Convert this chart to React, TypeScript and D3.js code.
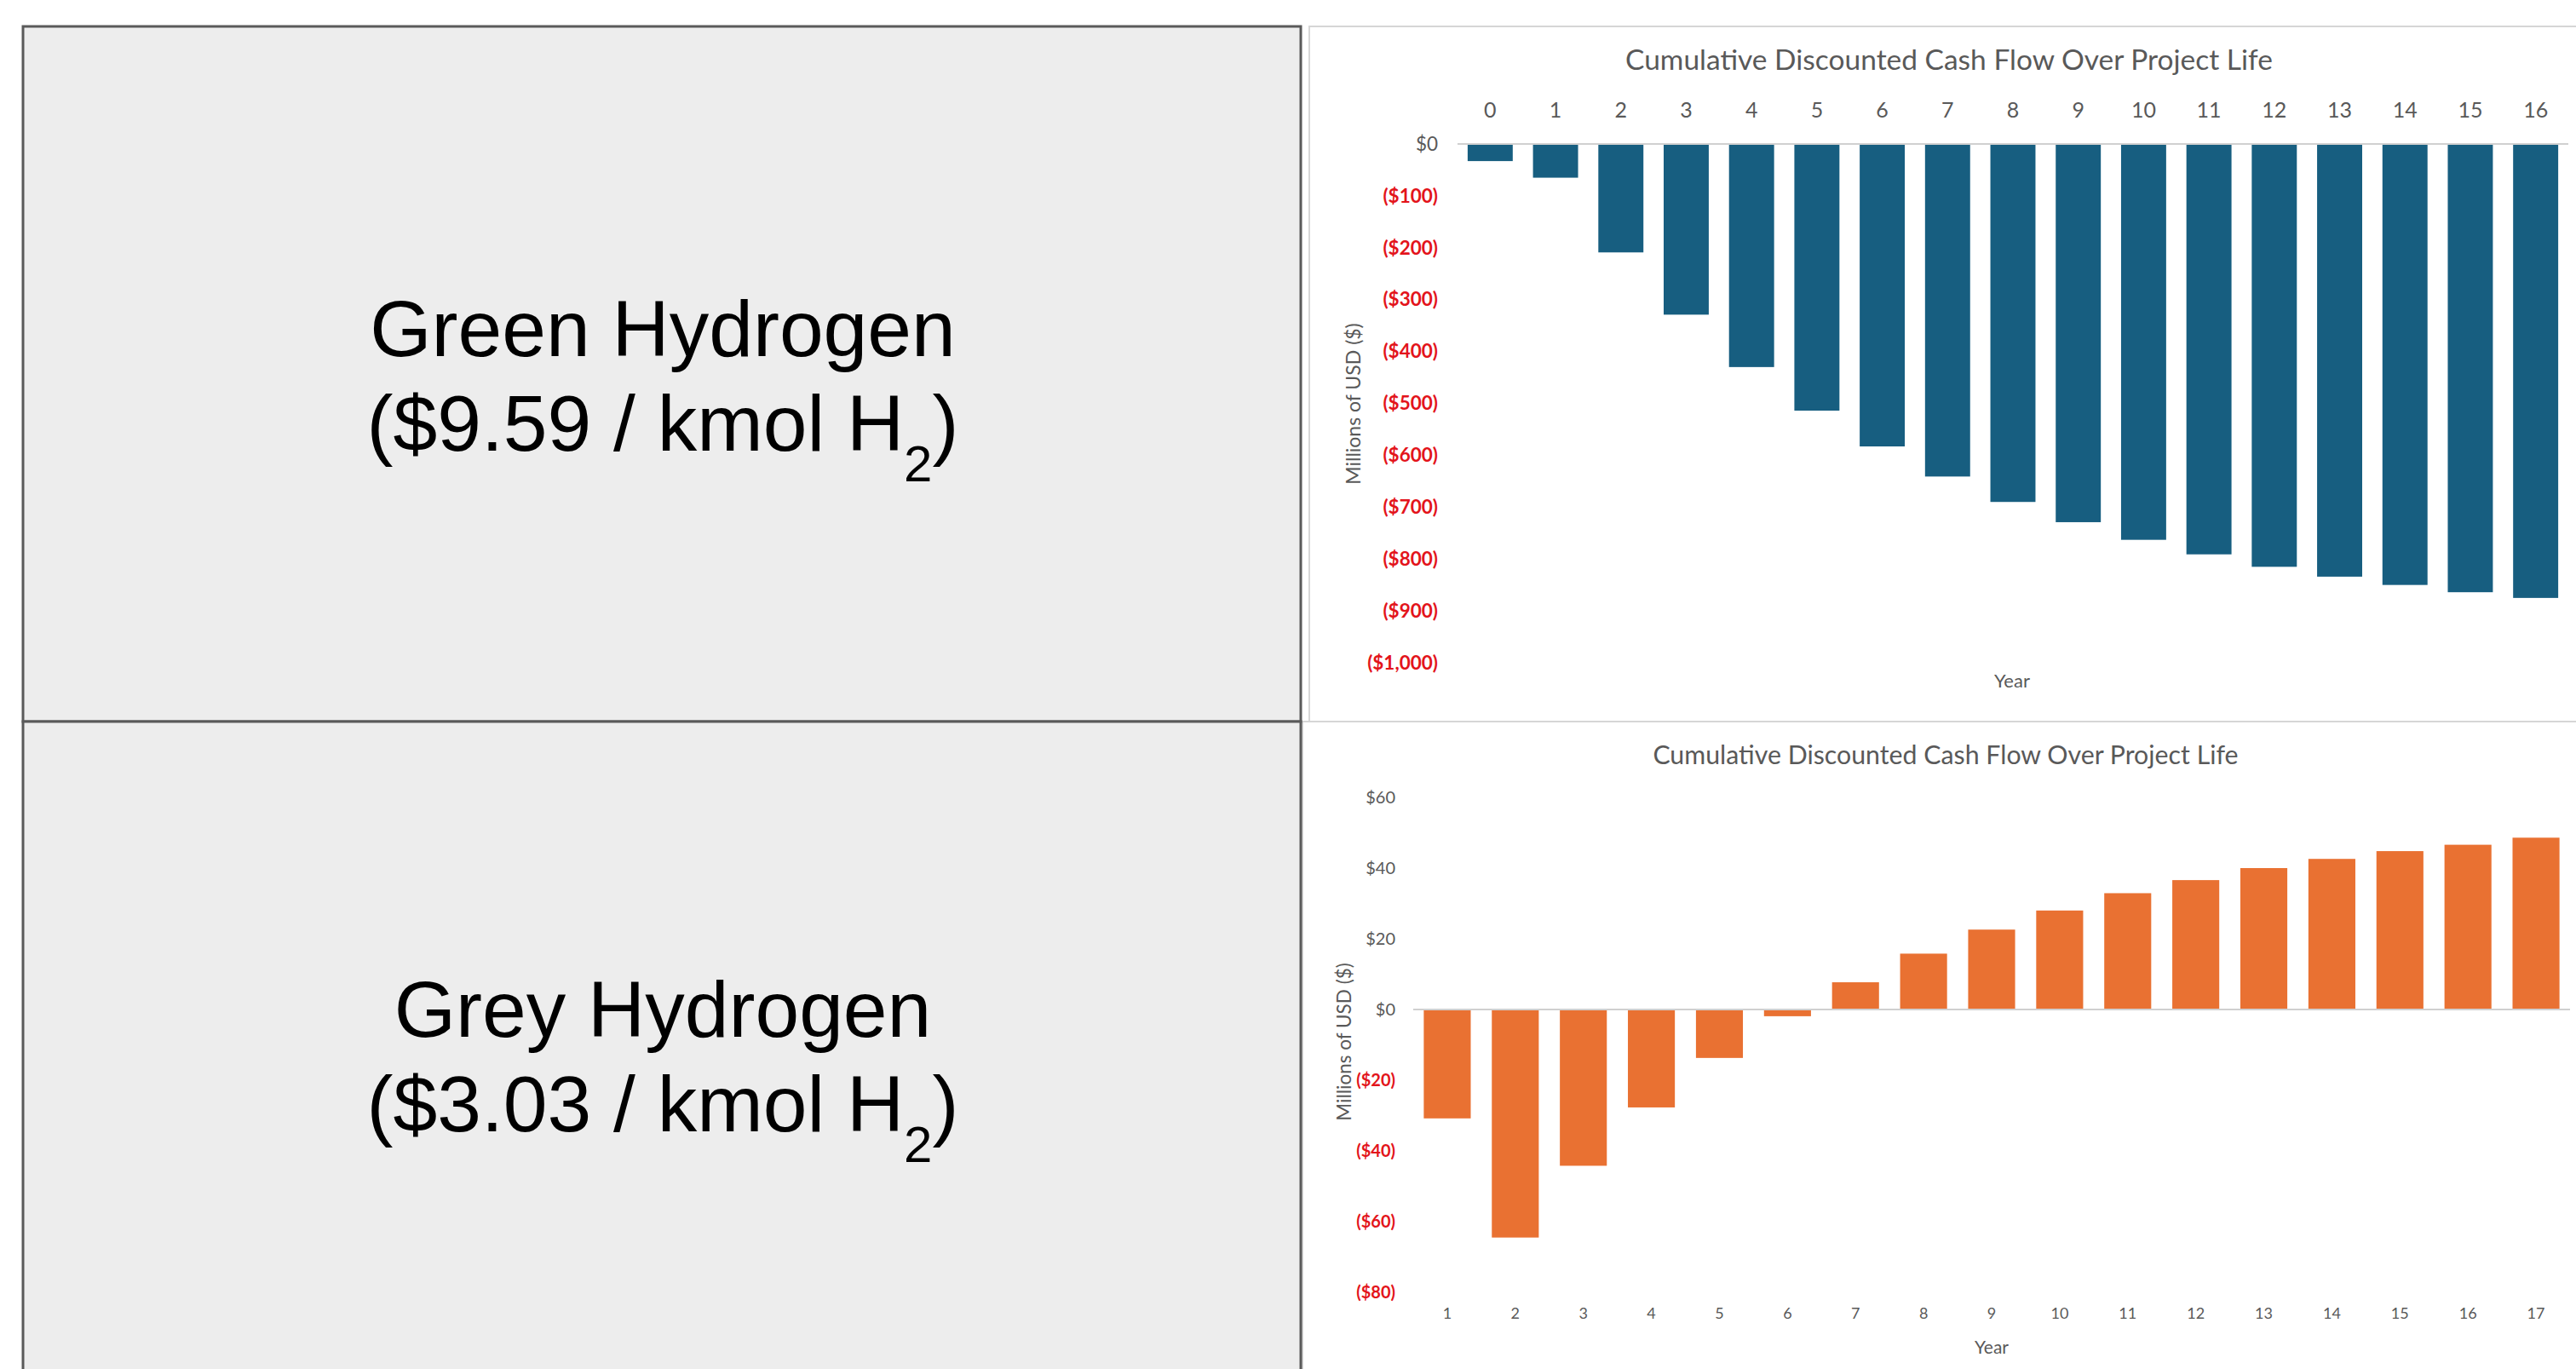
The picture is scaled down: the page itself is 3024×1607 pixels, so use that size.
import * as React from "react";
import * as d3 from "d3";

// top panel: green hydrogen, years 0-16 (millions USD)
const greenYears = ["0", "1", "2", "3", "4", "5", "6", "7", "8", "9", "10", "11", "12", "13", "14", "15", "16"];
const greenCash = [-33, -65, -209, -329, -430, -514, -583, -641, -690, -729, -763, -791, -815, -834, -850, -864, -875];
const greenTicks = [0, -100, -200, -300, -400, -500, -600, -700, -800, -900, -1000];

// bottom panel: grey hydrogen, years 1-17 (millions USD)
const greyYears = ["1", "2", "3", "4", "5", "6", "7", "8", "9", "10", "11", "12", "13", "14", "15", "16", "17"];
const greyCash = [-30.8, -64.5, -44.2, -27.7, -13.7, -1.9, 7.7, 15.8, 22.6, 28.0, 32.9, 36.6, 40.0, 42.6, 44.8, 46.6, 48.6];
const greyTicks = [60, 40, 20, 0, -20, -40, -60, -80];

const chartTitle = "Cumulative Discounted Cash Flow Over Project Life";
const yTitle = "Millions of USD ($)";
const xTitle = "Year";

const W = 3024;
const H = 1607;
const FONT = "Lato, 'Open Sans', sans-serif";
const GREY_TXT = "#595959";
const RED_TXT = "#e3141b";

const money = (v: number) =>
  v === 0 ? "$0" : v < 0 ? `($${d3.format(",")(-v)})` : `$${d3.format(",")(v)}`;

type PanelCfg = {
  years: string[];
  values: number[];
  ticks: number[];
  color: string;
  xRange: [number, number];
  yDomain: [number, number];
  yRange: [number, number];
  xAxisTop: boolean;
  xAxisY: number;
  yAxisX: number;
  titleX: number;
  titleY: number;
  titleSize: number;
  tickSize: number;
  yTickSize: number;
  yTitlePos: [number, number];
  yTitleSize: number;
  xTitlePos: [number, number];
  xTitleSize: number;
};

function drawPanel(svg: d3.Selection<SVGSVGElement, unknown, null, undefined>, cfg: PanelCfg) {
  const g = svg.append("g");
  const x = d3.scaleBand<string>().domain(cfg.years).range(cfg.xRange).paddingInner(0.31).paddingOuter(0.155);
  const y = d3.scaleLinear().domain(cfg.yDomain).range(cfg.yRange);

  // title
  g.append("text")
    .attr("x", cfg.titleX)
    .attr("y", cfg.titleY)
    .attr("text-anchor", "middle")
    .attr("font-family", FONT)
    .attr("font-size", cfg.titleSize)
    .attr("fill", GREY_TXT)
    .text(chartTitle);

  // bars
  g.selectAll("rect.bar")
    .data(cfg.values)
    .enter()
    .append("rect")
    .attr("class", "bar")
    .attr("x", (_, i) => x(cfg.years[i])!)
    .attr("width", x.bandwidth())
    .attr("y", (d) => Math.min(y(d), y(0)))
    .attr("height", (d) => Math.abs(y(d) - y(0)))
    .attr("fill", cfg.color);

  // zero line
  g.append("line")
    .attr("x1", cfg.xRange[0])
    .attr("x2", cfg.xRange[1])
    .attr("y1", y(0))
    .attr("y2", y(0))
    .attr("stroke", "#d0d0d0")
    .attr("stroke-width", 2);

  // y axis
  const yAxis = g.append("g")
    .attr("transform", `translate(${cfg.yAxisX},0)`)
    .call(d3.axisLeft(y).tickValues(cfg.ticks).tickSize(0).tickPadding(0).tickFormat((d) => money(+d)));
  yAxis.select(".domain").remove();
  yAxis.selectAll("text")
    .attr("font-family", FONT)
    .attr("font-size", cfg.yTickSize)
    .attr("font-weight", (d: any) => (+d < 0 ? 700 : 400))
    .attr("fill", (d: any) => (+d < 0 ? RED_TXT : GREY_TXT));

  // x axis
  const xAxisGen = cfg.xAxisTop ? d3.axisTop(x) : d3.axisBottom(x);
  const xAxis = g.append("g")
    .attr("transform", `translate(0,${cfg.xAxisY})`)
    .call(xAxisGen.tickSize(0).tickPadding(0));
  xAxis.select(".domain").remove();
  xAxis.selectAll("text")
    .attr("font-family", FONT)
    .attr("font-size", cfg.tickSize)
    .attr("fill", GREY_TXT);

  // axis titles
  g.append("text")
    .attr("transform", `translate(${cfg.yTitlePos[0]},${cfg.yTitlePos[1]}) rotate(-90)`)
    .attr("text-anchor", "middle")
    .attr("dominant-baseline", "central")
    .attr("font-family", FONT)
    .attr("font-size", cfg.yTitleSize)
    .attr("fill", GREY_TXT)
    .text(yTitle);

  g.append("text")
    .attr("x", cfg.xTitlePos[0])
    .attr("y", cfg.xTitlePos[1])
    .attr("text-anchor", "middle")
    .attr("dominant-baseline", "central")
    .attr("font-family", FONT)
    .attr("font-size", cfg.xTitleSize)
    .attr("fill", GREY_TXT)
    .text(xTitle);
}

function drawLabelBox(
  svg: d3.Selection<SVGSVGElement, unknown, null, undefined>,
  y0: number,
  y1: number,
  name: string,
  price: string,
  base: number
) {
  svg.append("rect")
    .attr("x", 27)
    .attr("y", y0)
    .attr("width", 1500)
    .attr("height", y1 - y0)
    .attr("fill", "#ededed")
    .attr("stroke", "#5a5a5a")
    .attr("stroke-width", 3);

  const t = svg.append("text")
    .attr("text-anchor", "middle")
    .attr("font-family", "'Liberation Sans', Arial, sans-serif")
    .attr("font-size", 93)
    .attr("fill", "#000");
  t.append("tspan").attr("x", 778).attr("y", base).text(name);
  const l2 = t.append("tspan").attr("x", 778).attr("y", base + 111);
  l2.append("tspan").text(`(${price} / kmol H`);
  l2.append("tspan").attr("font-size", 60).attr("dy", 36).text("2");
  l2.append("tspan").attr("dy", -36).text(")");
}

export default function App() {
  const svgRef = React.useRef<SVGSVGElement>(null);

  React.useEffect(() => {
    const svg = d3.select(svgRef.current!);
    svg.selectAll("*").remove();

    svg.append("rect").attr("width", W).attr("height", H).attr("fill", "#fff");

    // right panel frames
    svg.append("rect")
      .attr("x", 1537).attr("y", 31).attr("width", 1500).attr("height", 816)
      .attr("fill", "#fff").attr("stroke", "#d6d6d6").attr("stroke-width", 2);
    svg.append("rect")
      .attr("x", 1529).attr("y", 847).attr("width", 1510).attr("height", 800)
      .attr("fill", "#fff").attr("stroke", "#d6d6d6").attr("stroke-width", 2);

    // left label boxes
    drawLabelBox(svg, 31, 847, "Green Hydrogen", "$9.59", 418);
    drawLabelBox(svg, 847, 1640, "Grey Hydrogen", "$3.03", 1217);

    drawPanel(svg, {
      years: greenYears,
      values: greenCash,
      ticks: greenTicks,
      color: "#175e80",
      xRange: [1711, 3015],
      yDomain: [0, -1000],
      yRange: [169, 778],
      xAxisTop: true,
      xAxisY: 138,
      yAxisX: 1688,
      titleX: 2288,
      titleY: 82,
      titleSize: 33.5,
      tickSize: 25,
      yTickSize: 22.5,
      yTitlePos: [1588, 474],
      yTitleSize: 23,
      xTitlePos: [2362, 798],
      xTitleSize: 22,
    });

    drawPanel(svg, {
      years: greyYears,
      values: greyCash,
      ticks: greyTicks,
      color: "#e97132",
      xRange: [1659, 3017],
      yDomain: [-80, 60],
      yRange: [1517, 936],
      xAxisTop: false,
      xAxisY: 1535,
      yAxisX: 1638,
      titleX: 2284,
      titleY: 897,
      titleSize: 30.3,
      tickSize: 18,
      yTickSize: 20,
      yTitlePos: [1577, 1223],
      yTitleSize: 22.5,
      xTitlePos: [2338, 1580],
      xTitleSize: 21,
    });
  }, []);

  return (
    <svg
      ref={svgRef}
      width={W}
      height={H}
      style={{ position: "absolute", left: 0, top: 0, display: "block" }}
    />
  );
}
